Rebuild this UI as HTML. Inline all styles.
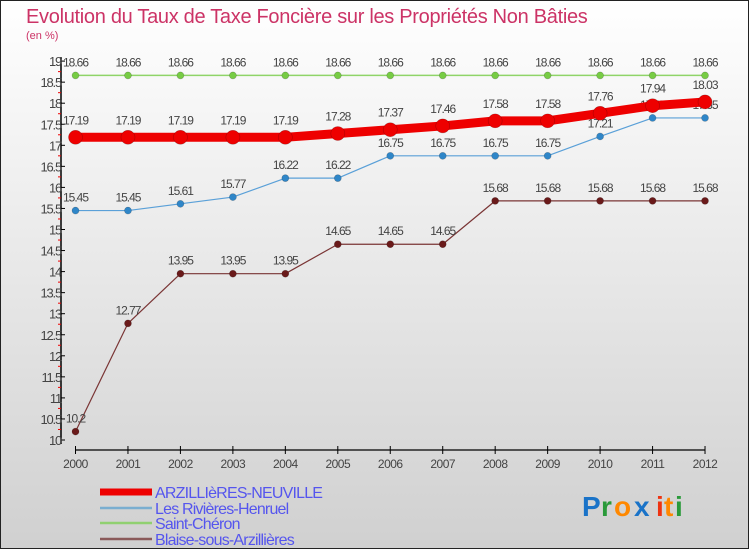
<!DOCTYPE html>
<html><head><meta charset="utf-8"><style>
html,body{margin:0;padding:0}
body{width:750px;height:550px;overflow:hidden;font-family:"Liberation Sans","DejaVu Sans",sans-serif}
svg text{font-family:"Liberation Sans","DejaVu Sans",sans-serif}
</style></head><body>
<svg id="chart" width="750" height="550" xmlns="http://www.w3.org/2000/svg">
<defs><linearGradient id="bg" x1="0" y1="0" x2="0" y2="1"><stop offset="0" stop-color="#ffffff"/><stop offset="1" stop-color="#d0d0d0"/></linearGradient></defs>
<rect x="0.5" y="0.5" width="748" height="548" fill="url(#bg)" stroke="#222"/>
<text x="26" y="23" font-size="20" fill="#cc3366" letter-spacing="-0.3">Evolution du Taux de Taxe Foncière sur les Propriétés Non Bâties</text>
<text x="26" y="39" font-size="11" fill="#cc3366">(en %)</text>
<g id="axes"></g><g id="series"></g><g id="legend"></g>
<g font-size="28" font-weight="bold">
<text x="582" y="516" fill="#1a73c8">P</text><text x="601" y="516" fill="#2a9a3a">r</text><text x="614" y="516" fill="#ff8800">o</text><text x="634" y="516" fill="#1a73c8">x</text><text x="656" y="516" fill="#ee3311">i</text><text x="664" y="516" fill="#ff8800">t</text><text x="675" y="516" fill="#2a9a3a">i</text>
</g>
</svg>
<script>
const years=[2000,2001,2002,2003,2004,2005,2006,2007,2008,2009,2010,2011,2012];
const arzillieres=[17.19,17.19,17.19,17.19,17.19,17.28,17.37,17.46,17.58,17.58,17.76,17.94,18.03];
const rivieres=[15.45,15.45,15.61,15.77,16.22,16.22,16.75,16.75,16.75,16.75,17.21,17.65,17.65];
const saintCheron=[18.66,18.66,18.66,18.66,18.66,18.66,18.66,18.66,18.66,18.66,18.66,18.66,18.66];
const blaise=[10.2,12.77,13.95,13.95,13.95,14.65,14.65,14.65,15.68,15.68,15.68,15.68,15.68];
const yTicks=[10,10.5,11,11.5,12,12.5,13,13.5,14,14.5,15,15.5,16,16.5,17,17.5,18,18.5,19];
const seriesNames=["ARZILLIèRES-NEUVILLE","Les Rivières-Henruel","Saint-Chéron","Blaise-sous-Arzillières"];

const NS="http://www.w3.org/2000/svg";
const xS=y=>75.5+(y-2000)*52.46;
const yS=v=>440-(v-10)*42.1;
function mk(p,tag,at){const e=document.createElementNS(NS,tag);for(const k in at)e.setAttribute(k,at[k]);p.appendChild(e);return e;}
const axes=document.getElementById('axes');
let ya=mk(axes,'line',{x1:61,y1:yS(19)-4,x2:61,y2:yS(10)+4,stroke:'#000','stroke-width':1.5});


for(let i=0;i<yTicks.length;i++){const v=yTicks[i];
 mk(axes,'line',{x1:61,y1:yS(v),x2:65,y2:yS(v),stroke:'#000'});
 if(i<yTicks.length-1) mk(axes,'line',{x1:58,y1:yS(v+0.25),x2:61,y2:yS(v+0.25),stroke:'#e00'});
 const t=mk(axes,'text',{x:61,y:yS(v)+5,'font-size':13,fill:'#444','text-anchor':'end','letter-spacing':'-1.2'});
 t.textContent=String(v);
 
 
}
let xa=mk(axes,'line',{x1:xS(2000),y1:450,x2:xS(2012),y2:450,stroke:'#000','stroke-width':1.2});


years.forEach(y=>{mk(axes,'line',{x1:xS(y),y1:446,x2:xS(y),y2:454,stroke:'#000'});
 const t=mk(axes,'text',{x:xS(y),y:468,'font-size':12,fill:'#444','text-anchor':'middle','letter-spacing':'-0.5'});
 t.textContent=y;
 
 
});
const sg=document.getElementById('series');
function draw(vals,color,w,r,name,dot){
 const g=mk(sg,'g',{});
 
 
 mk(g,'polyline',{points:vals.map((v,i)=>xS(years[i])+','+yS(v)).join(' '),fill:'none',stroke:color,'stroke-width':w,'stroke-linejoin':'round'});
 vals.forEach((v,i)=>{const c=mk(g,'circle',{cx:xS(years[i]),cy:yS(v),r:r,fill:dot,stroke:'rgba(0,0,0,0.25)','stroke-width':0.6});
  
  
  const t=mk(g,'text',{x:xS(years[i]),y:yS(v)-9-(r>5?4:0),'font-size':12,fill:'#444','text-anchor':'middle','letter-spacing':'-1'});
  t.textContent=String(v);
  
  
 });
}
draw(saintCheron,'#8fd468',1.5,3.5,'series-saint-cheron','#77cc44');
draw(rivieres,'#5aa0d8',1.2,3.5,'series-les-rivieres-henruel','#2f86c8');
draw(blaise,'#7a3535',1.2,3.5,'series-blaise-sous-arzillieres','#6a1a1a');
draw(arzillieres,'#ee0000',9,7,'series-arzillieres-neuville','#ee0000');
const lg=document.getElementById('legend');
const lc=['#ee0000','#7aaed0','#90d070','#8a5a5a'],lw=[7,2.5,2.5,2.5],ly=[492,508,523,539];
seriesNames.forEach((n,i)=>{const g=mk(lg,'g',{});
 
 
 mk(g,'line',{x1:100,y1:ly[i],x2:152,y2:ly[i],stroke:lc[i],'stroke-width':lw[i]});
 const t=mk(g,'text',{x:155,y:ly[i]+6,'font-size':16,fill:'#5555ee','letter-spacing':'-0.8'});
 t.textContent=n;
});
</script>
</body></html>
